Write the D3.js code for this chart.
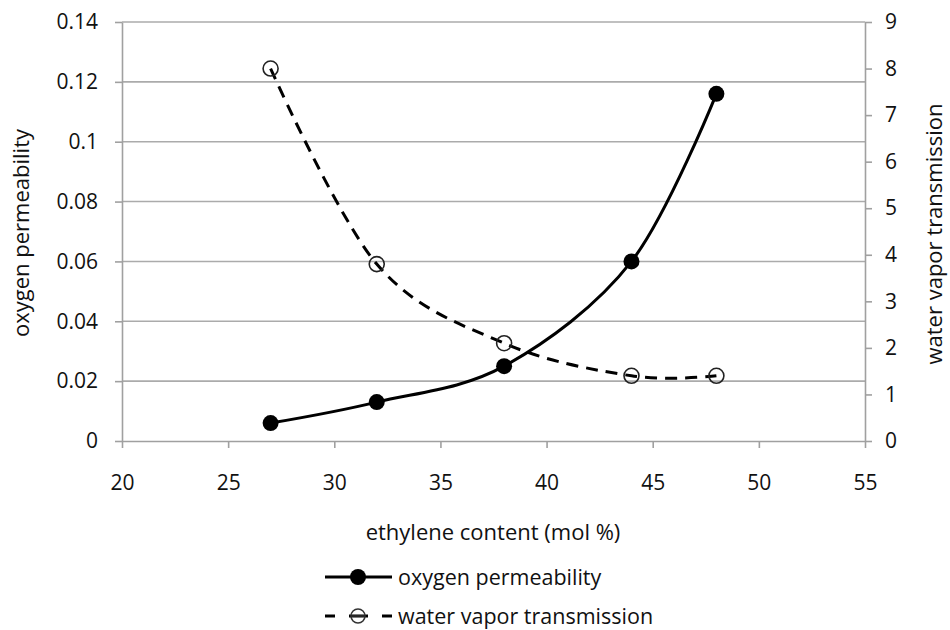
<!DOCTYPE html>
<meta charset="utf-8">
<style>
body { margin: 0; background: #fff; }
svg text {
    font-family: 'Open Sans', 'Liberation Sans', sans-serif;
    fill: #111;
}
.tick text { font-size: 21px; }
.axis path, .axis line { stroke: #a0a0a0; stroke-width: 1.6px; }
.grid line { stroke: #ababab; stroke-width: 1.6px; }
.big { font-size: 22px; }
.leg { font-size: 21.5px; }
.oxy { fill: none; stroke: #000; stroke-width: 3px; }
.wvt { fill: none; stroke: #000; stroke-width: 3px; stroke-dasharray: 12 8; }
</style>
<svg id="svg" width="950" height="630"></svg>
<script src="https://cdn.jsdelivr.net/npm/d3@7"></script>
<script>

// ethylene content (mol %)
const ethylene = [27, 32, 38, 44, 48];
const oxygenPermeability = [0.006, 0.013, 0.025, 0.060, 0.116];
const waterVapor = [8.0, 3.8, 2.1, 1.4, 1.4];

const xTicks = [20, 25, 30, 35, 40, 45, 50, 55];
const yLeftTicks = [0, 0.02, 0.04, 0.06, 0.08, 0.1, 0.12, 0.14];
const yRightTicks = [0, 1, 2, 3, 4, 5, 6, 7, 8, 9];

const legendNames = ['oxygen permeability', 'water vapor transmission'];

function translate(x, y) {
    return 'translate(' + x + ',' + y + ')';
}

const svg = d3.select('#svg');
const plotLeft = 122, plotRight = 865, plotTop = 22, plotBottom = 441;

const x = d3.scaleLinear().domain([20, 55]).range([plotLeft, plotRight]);
const yL = d3.scaleLinear().domain([0, 0.14]).range([plotBottom, plotTop]);
const yR = d3.scaleLinear().domain([0, 9]).range([plotBottom, plotTop]);

// gridlines on the left axis ticks
svg.append('g')
    .attr('class', 'grid')
    .selectAll('line')
    .data(yLeftTicks.slice(1))
    .enter().append('line')
    .attr('x1', plotLeft).attr('x2', plotRight)
    .attr('y1', d => yL(d)).attr('y2', d => yL(d));

svg.append('g')
    .attr('class', 'axis')
    .attr('transform', translate(0, plotBottom))
    .call(d3.axisBottom(x).tickValues(xTicks).tickSize(7).tickSizeOuter(0).tickPadding(27));

svg.append('g')
    .attr('class', 'axis')
    .attr('transform', translate(plotLeft, 0))
    .call(d3.axisLeft(yL).tickValues(yLeftTicks).tickFormat(d3.format('~g')).tickSize(7).tickSizeOuter(0).tickPadding(17));

svg.append('g')
    .attr('class', 'axis')
    .attr('transform', translate(plotRight, 0))
    .call(d3.axisRight(yR).tickValues(yRightTicks).tickSize(7).tickSizeOuter(0).tickPadding(13));

// axis titles
svg.append('text')
    .attr('class', 'big')
    .attr('transform', translate(29, 233) + ' rotate(-90)')
    .attr('text-anchor', 'middle')
    .text('oxygen permeability');

svg.append('text')
    .attr('class', 'big')
    .attr('transform', translate(942, 234) + ' rotate(-90)')
    .attr('text-anchor', 'middle')
    .text('water vapor transmission');

svg.append('text')
    .attr('class', 'big')
    .attr('x', 493).attr('y', 540)
    .attr('text-anchor', 'middle')
    .text('ethylene content (mol %)');

const oxyData = ethylene.map((e, i) => ({x: e, y: oxygenPermeability[i]}));
const wvtData = ethylene.map((e, i) => ({x: e, y: waterVapor[i]}));

const curve = d3.curveCardinal.tension(0);

svg.append('path')
    .attr('class', 'wvt')
    .attr('d', d3.line().curve(curve).x(d => x(d.x)).y(d => yR(d.y))(wvtData));

svg.append('path')
    .attr('class', 'oxy')
    .attr('d', d3.line().curve(curve).x(d => x(d.x)).y(d => yL(d.y))(oxyData));

svg.append('g').selectAll('circle')
    .data(wvtData)
    .enter().append('circle')
    .attr('cx', d => x(d.x)).attr('cy', d => yR(d.y))
    .attr('r', 7.5)
    .attr('fill', 'none')
    .attr('stroke', '#222')
    .attr('stroke-width', 1.6);

svg.append('g').selectAll('circle')
    .data(oxyData)
    .enter().append('circle')
    .attr('cx', d => x(d.x)).attr('cy', d => yL(d.y))
    .attr('r', 8)
    .attr('fill', '#000');

// legend
const legend = svg.append('g').attr('transform', translate(325, 577));

legend.append('line')
    .attr('x1', 0).attr('x2', 67).attr('y1', 0).attr('y2', 0)
    .attr('stroke', '#000').attr('stroke-width', 3);
legend.append('circle').attr('cx', 33).attr('cy', 0).attr('r', 8).attr('fill', '#000');

const l2 = legend.append('g').attr('transform', translate(0, 39));
l2.append('line')
    .attr('x1', 0).attr('x2', 67).attr('y1', 0).attr('y2', 0)
    .attr('stroke', '#000').attr('stroke-width', 3)
    .attr('stroke-dasharray', '10 14 19 14 10');
l2.append('circle')
    .attr('cx', 33).attr('cy', 0).attr('r', 7)
    .attr('fill', 'none').attr('stroke', '#333').attr('stroke-width', 1.5);
l2.append('line')
    .attr('x1', 27).attr('x2', 39).attr('y1', 0).attr('y2', 0)
    .attr('stroke', '#333').attr('stroke-width', 1.5);

legend.selectAll('text.leg')
    .data(legendNames)
    .enter().append('text')
    .attr('class', 'leg')
    .attr('x', 73)
    .attr('y', (d, i) => i * 39)
    .attr('dy', '0.35em')
    .text(d => d);

</script>
